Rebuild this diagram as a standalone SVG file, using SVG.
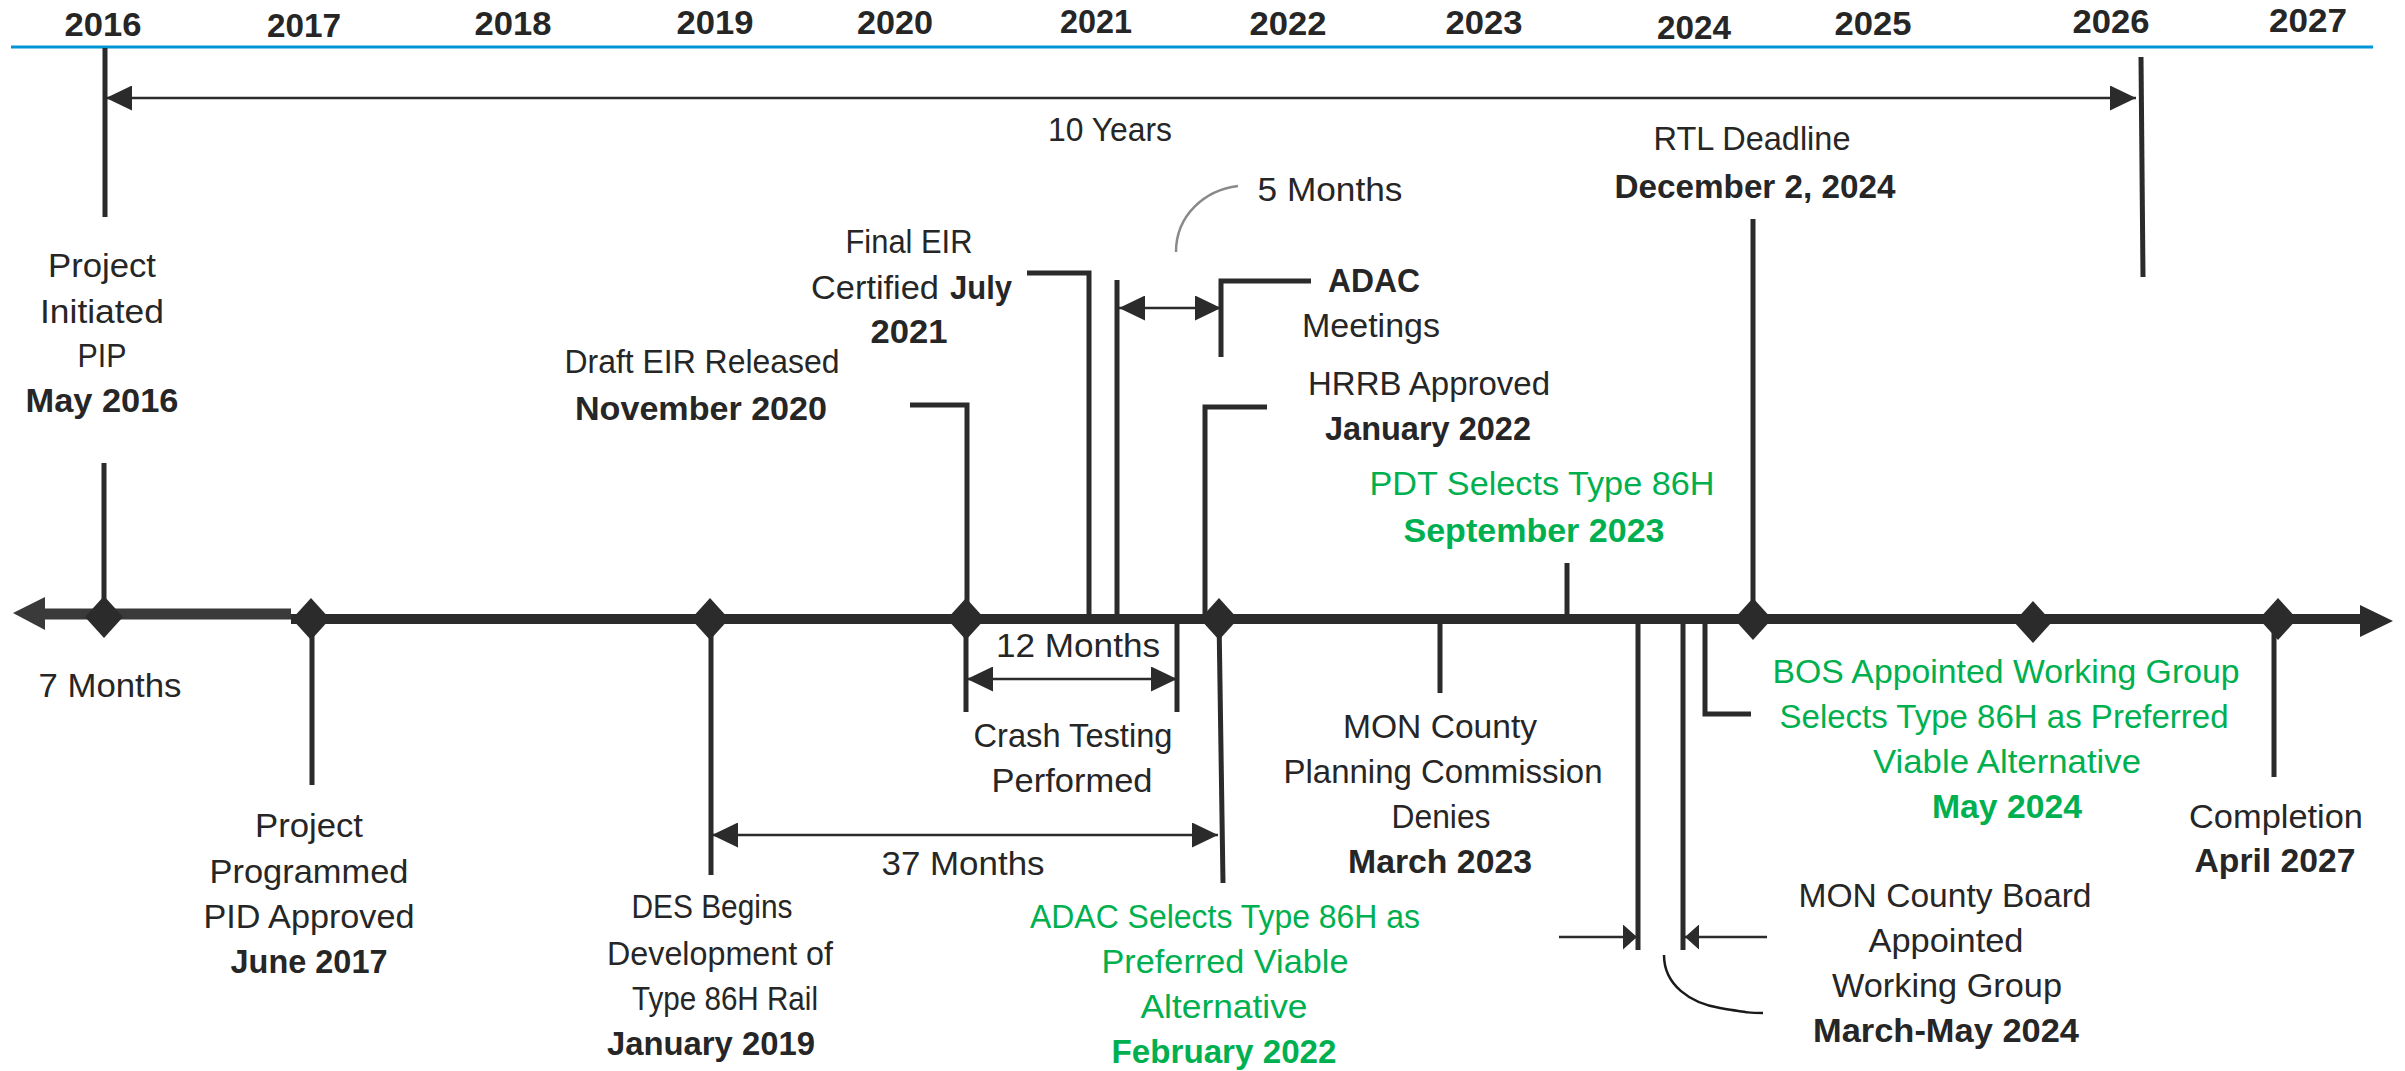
<svg xmlns="http://www.w3.org/2000/svg" width="2405" height="1071" viewBox="0 0 2405 1071">
<style>
text{font-family:"Liberation Sans",Arial,sans-serif;font-size:33px;fill:#262626;text-anchor:middle}
.b{font-weight:bold}
.g{fill:#00b050}
.yr{font-weight:bold;font-size:34px}
.st{fill:none;stroke:#2b2b2b;stroke-width:5}
.th{fill:none;stroke:#2b2b2b;stroke-width:2.5}
.dm{fill:#2b2b2b}
</style>
<defs>
<marker id="ah" markerUnits="userSpaceOnUse" markerWidth="26" markerHeight="25" refX="26" refY="12.5" orient="auto-start-reverse"><path d="M0,0 L26,12.5 L0,25 z" fill="#2b2b2b"/></marker>
<marker id="ahs" markerUnits="userSpaceOnUse" markerWidth="14" markerHeight="25" refX="14" refY="12.5" orient="auto-start-reverse"><path d="M0,0 L14,12.5 L0,25 z" fill="#2b2b2b"/></marker>
</defs>
<rect width="2405" height="1071" fill="#fff"/>
<g id="years">
<line x1="11" y1="47" x2="2373" y2="47" stroke="#0096d6" stroke-width="3"/>
<text class="yr" x="103" y="36" textLength="77" lengthAdjust="spacingAndGlyphs">2016</text>
<text class="yr" x="304" y="37" textLength="74" lengthAdjust="spacingAndGlyphs">2017</text>
<text class="yr" x="513" y="35" textLength="77" lengthAdjust="spacingAndGlyphs">2018</text>
<text class="yr" x="715" y="34" textLength="77" lengthAdjust="spacingAndGlyphs">2019</text>
<text class="yr" x="895" y="34" textLength="76" lengthAdjust="spacingAndGlyphs">2020</text>
<text class="yr" x="1096" y="33" textLength="72" lengthAdjust="spacingAndGlyphs">2021</text>
<text class="yr" x="1288" y="35" textLength="77" lengthAdjust="spacingAndGlyphs">2022</text>
<text class="yr" x="1484" y="34" textLength="77" lengthAdjust="spacingAndGlyphs">2023</text>
<text class="yr" x="1694" y="39" textLength="74" lengthAdjust="spacingAndGlyphs">2024</text>
<text class="yr" x="1873" y="35" textLength="77" lengthAdjust="spacingAndGlyphs">2025</text>
<text class="yr" x="2111" y="33" textLength="77" lengthAdjust="spacingAndGlyphs">2026</text>
<text class="yr" x="2308" y="32" textLength="78" lengthAdjust="spacingAndGlyphs">2027</text>
</g>
<g id="axis">
<line x1="40" y1="614" x2="291" y2="614" stroke="#3a3a3a" stroke-width="11"/>
<polygon points="13,613 45,597 45,630" fill="#3a3a3a"/>
<line x1="291" y1="619" x2="2362" y2="619" stroke="#2b2b2b" stroke-width="10"/>
<polygon points="2393,621 2360,605 2360,637" fill="#2b2b2b"/>
</g>
<g id="connectors">
<line class="st" x1="105" y1="48" x2="105" y2="217"/>
<line class="st" x1="104" y1="463" x2="104" y2="618"/>
<line class="st" x1="312" y1="618" x2="312" y2="785"/>
<line class="st" x1="711" y1="618" x2="711" y2="875"/>
<polyline class="st" points="910,405 967,405 967,618"/>
<polyline class="st" points="1027,273 1089,273 1089,615"/>
<line class="st" x1="1117" y1="280" x2="1117" y2="615"/>
<polyline class="st" points="1311,281 1221,281 1221,357"/>
<polyline class="st" points="1267,407 1205,407 1205,615"/>
<line class="st" x1="1219" y1="618" x2="1223" y2="883"/>
<line class="st" x1="966" y1="618" x2="966" y2="712"/>
<line class="st" x1="1177" y1="622" x2="1177" y2="712"/>
<line class="st" x1="1440" y1="622" x2="1440" y2="693"/>
<line class="st" x1="1567" y1="563" x2="1567" y2="616"/>
<line class="st" x1="1638" y1="622" x2="1638" y2="950"/>
<line class="st" x1="1683" y1="622" x2="1683" y2="950"/>
<polyline class="st" points="1705,622 1705,714 1751,714"/>
<line class="st" x1="1753" y1="219" x2="1753" y2="618"/>
<line class="st" x1="2141" y1="57" x2="2143" y2="277"/>
<line class="st" x1="2274" y1="618" x2="2274" y2="777"/>
<line class="th" x1="106" y1="98" x2="2136" y2="98" marker-start="url(#ah)" marker-end="url(#ah)"/>
<line class="th" x1="1119" y1="308" x2="1221" y2="308" marker-start="url(#ah)" marker-end="url(#ah)"/>
<line class="th" x1="967" y1="679" x2="1177" y2="679" marker-start="url(#ah)" marker-end="url(#ah)"/>
<line class="th" x1="712" y1="835" x2="1218" y2="835" marker-start="url(#ah)" marker-end="url(#ah)"/>
<line class="th" x1="1559" y1="937" x2="1637" y2="937" marker-end="url(#ahs)"/>
<line class="th" x1="1767" y1="937" x2="1685" y2="937" marker-end="url(#ahs)"/>
<path d="M1176,252 C1176,215 1205,190 1238,186" fill="none" stroke="#8a8a8a" stroke-width="2.5"/>
<path d="M1664,955 C1664,985 1690,1003 1720,1008 S1750,1013 1763,1013" fill="none" stroke="#1a1a1a" stroke-width="2.5"/>
</g>
<g id="diamonds">
<polygon class="dm" points="104,596 123,617 104,638 85,617"/>
<polygon class="dm" points="311,598 330,619 311,640 292,619"/>
<polygon class="dm" points="710,598 729,619 710,640 691,619"/>
<polygon class="dm" points="966,598 985,619 966,640 947,619"/>
<polygon class="dm" points="1219,598 1238,619 1219,640 1200,619"/>
<polygon class="dm" points="1753,598 1772,619 1753,640 1734,619"/>
<polygon class="dm" points="2033,601 2052,622 2033,643 2014,622"/>
<polygon class="dm" points="2278,598 2297,619 2278,640 2259,619"/>
</g>
<g id="duration-labels">
<text x="1110" y="141" textLength="124" lengthAdjust="spacingAndGlyphs">10 Years</text>
<text x="1330" y="201" textLength="145" lengthAdjust="spacingAndGlyphs">5 Months</text>
<text x="110" y="697" textLength="143" lengthAdjust="spacingAndGlyphs">7 Months</text>
<text x="1078" y="657" textLength="164" lengthAdjust="spacingAndGlyphs">12 Months</text>
<text x="963" y="875" textLength="163" lengthAdjust="spacingAndGlyphs">37 Months</text>
</g>
<g id="project-initiated">
<text x="102" y="277" textLength="108" lengthAdjust="spacingAndGlyphs">Project</text>
<text x="102" y="323" textLength="124" lengthAdjust="spacingAndGlyphs">Initiated</text>
<text x="102" y="367" textLength="49" lengthAdjust="spacingAndGlyphs">PIP</text>
<text class="b" x="102" y="412" textLength="153" lengthAdjust="spacingAndGlyphs">May 2016</text>
</g>
<g id="project-programmed">
<text x="309" y="837" textLength="108" lengthAdjust="spacingAndGlyphs">Project</text>
<text x="309" y="883" textLength="199" lengthAdjust="spacingAndGlyphs">Programmed</text>
<text x="309" y="928" textLength="211" lengthAdjust="spacingAndGlyphs">PID Approved</text>
<text class="b" x="309" y="973" textLength="157" lengthAdjust="spacingAndGlyphs">June 2017</text>
</g>
<g id="des-begins">
<text x="712" y="918" textLength="161" lengthAdjust="spacingAndGlyphs">DES Begins</text>
<text x="720" y="965" textLength="226" lengthAdjust="spacingAndGlyphs">Development of</text>
<text x="725" y="1010" textLength="186" lengthAdjust="spacingAndGlyphs">Type 86H Rail</text>
<text class="b" x="711" y="1055" textLength="208" lengthAdjust="spacingAndGlyphs">January 2019</text>
</g>
<g id="draft-eir">
<text x="702" y="373" textLength="275" lengthAdjust="spacingAndGlyphs">Draft EIR Released</text>
<text class="b" x="701" y="420" textLength="252" lengthAdjust="spacingAndGlyphs">November 2020</text>
</g>
<g id="final-eir">
<text x="909" y="253" textLength="127" lengthAdjust="spacingAndGlyphs">Final EIR</text>
<text x="811" y="299" style="text-anchor:start" textLength="128" lengthAdjust="spacingAndGlyphs">Certified</text>
<text class="b" x="950" y="299" style="text-anchor:start" textLength="62" lengthAdjust="spacingAndGlyphs">July</text>
<text class="b" x="909" y="343" textLength="77" lengthAdjust="spacingAndGlyphs">2021</text>
</g>
<g id="crash-testing">
<text x="1073" y="747" textLength="199" lengthAdjust="spacingAndGlyphs">Crash Testing</text>
<text x="1072" y="792" textLength="161" lengthAdjust="spacingAndGlyphs">Performed</text>
</g>
<g id="adac-meetings">
<text class="b" x="1374" y="292" textLength="92" lengthAdjust="spacingAndGlyphs">ADAC</text>
<text x="1371" y="337" textLength="138" lengthAdjust="spacingAndGlyphs">Meetings</text>
</g>
<g id="hrrb">
<text x="1429" y="395" textLength="242" lengthAdjust="spacingAndGlyphs">HRRB Approved</text>
<text class="b" x="1428" y="440" textLength="206" lengthAdjust="spacingAndGlyphs">January 2022</text>
</g>
<g id="adac-selects">
<text class="g" x="1225" y="928" textLength="390" lengthAdjust="spacingAndGlyphs">ADAC Selects Type 86H as</text>
<text class="g" x="1225" y="973" textLength="247" lengthAdjust="spacingAndGlyphs">Preferred Viable</text>
<text class="g" x="1224" y="1018" textLength="167" lengthAdjust="spacingAndGlyphs">Alternative</text>
<text class="g b" x="1224" y="1063" textLength="225" lengthAdjust="spacingAndGlyphs">February 2022</text>
</g>
<g id="mon-planning">
<text x="1440" y="738" textLength="194" lengthAdjust="spacingAndGlyphs">MON County</text>
<text x="1443" y="783" textLength="319" lengthAdjust="spacingAndGlyphs">Planning Commission</text>
<text x="1441" y="828" textLength="99" lengthAdjust="spacingAndGlyphs">Denies</text>
<text class="b" x="1440" y="873" textLength="184" lengthAdjust="spacingAndGlyphs">March 2023</text>
</g>
<g id="pdt-selects">
<text class="g" x="1542" y="495" textLength="345" lengthAdjust="spacingAndGlyphs">PDT Selects Type 86H</text>
<text class="g b" x="1534" y="542" textLength="261" lengthAdjust="spacingAndGlyphs">September 2023</text>
</g>
<g id="mon-board">
<text x="1945" y="907" textLength="293" lengthAdjust="spacingAndGlyphs">MON County Board</text>
<text x="1946" y="952" textLength="155" lengthAdjust="spacingAndGlyphs">Appointed</text>
<text x="1947" y="997" textLength="230" lengthAdjust="spacingAndGlyphs">Working Group</text>
<text class="b" x="1946" y="1042" textLength="266" lengthAdjust="spacingAndGlyphs">March-May 2024</text>
</g>
<g id="bos-selects">
<text class="g" x="2006" y="683" textLength="467" lengthAdjust="spacingAndGlyphs">BOS Appointed Working Group</text>
<text class="g" x="2004" y="728" textLength="449" lengthAdjust="spacingAndGlyphs">Selects Type 86H as Preferred</text>
<text class="g" x="2007" y="773" textLength="268" lengthAdjust="spacingAndGlyphs">Viable Alternative</text>
<text class="g b" x="2007" y="818" textLength="150" lengthAdjust="spacingAndGlyphs">May 2024</text>
</g>
<g id="rtl-deadline">
<text x="1752" y="150" textLength="197" lengthAdjust="spacingAndGlyphs">RTL Deadline</text>
<text class="b" x="1755" y="198" textLength="281" lengthAdjust="spacingAndGlyphs">December 2, 2024</text>
</g>
<g id="completion">
<text x="2276" y="828" textLength="174" lengthAdjust="spacingAndGlyphs">Completion</text>
<text class="b" x="2275" y="872" textLength="161" lengthAdjust="spacingAndGlyphs">April 2027</text>
</g>
</svg>
